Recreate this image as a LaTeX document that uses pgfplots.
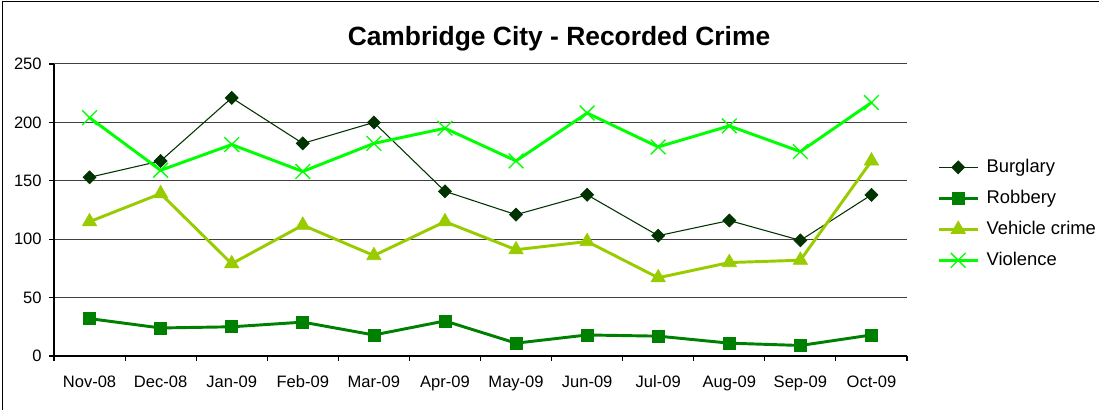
\documentclass[border=0pt]{standalone}
\usepackage{fontspec}
\setmainfont{Liberation Sans}
\usepackage{pgfplots}
\pgfplotsset{compat=1.18}
\definecolor{burg}{HTML}{003300}
\definecolor{robb}{HTML}{008000}
\definecolor{vehi}{HTML}{99CC00}
\definecolor{viol}{HTML}{00FF00}
\begin{document}
\begin{tikzpicture}
\path[use as bounding box] (0pt,0pt) rectangle (824.25pt,307.5pt);
\begin{scope}
\clip (0pt,0pt) rectangle (824.25pt,307.5pt);
\draw[black, line width=1.1pt] (1.9pt,306.4pt) rectangle (900pt,-40pt);
\node[font=\bfseries\fontsize{19.8}{23}\selectfont] at (419.25pt,278.5pt) {Cambridge City - Recorded Crime};
\begin{axis}[
  at={(40.5pt,40.5pt)}, anchor=south west, scale only axis,
  width=639.75pt, height=219pt,
  xmin=-0.5, xmax=11.5, ymin=0, ymax=250,
  axis x line*=bottom, axis y line*=left,
  axis line style={black, line width=0.8pt},
  xtick={0,...,11},
  xticklabels={Nov-08,Dec-08,Jan-09,Feb-09,Mar-09,Apr-09,May-09,Jun-09,Jul-09,Aug-09,Sep-09,Oct-09},
  minor xtick={-0.5,0.5,...,11.5},
  major x tick style={draw=none},
  minor x tick style={black, line width=0.8pt},
  ytick={0,50,...,250},
  ytick style={black, line width=0.8pt},
  tick align=outside,
  major tick length=3.75pt, minor tick length=3.75pt,
  ymajorgrids,
  grid style={black!75, line width=0.75pt},
  tick label style={font=\fontsize{12.4}{14}\selectfont},
  /pgf/number format/assume math mode=true,
  xticklabel style={yshift=-7.5pt},
  yticklabel style={xshift=-2pt},
  clip=false,
  legend style={draw=none, fill=none, at={(axis description cs:1.0305,0.487)}, anchor=west,
    font=\fontsize{13.8}{16}\selectfont, row sep=9.25pt, column sep=5.5pt,
    nodes={inner sep=0pt, text height=11pt, text depth=3pt}},
  legend cell align=left,
  legend image code/.code={\draw[mark repeat=2,mark phase=2] plot coordinates {(0pt,0pt) (14.6pt,0pt) (29.25pt,0pt)};},
]
\addplot[burg, line width=0.8pt, mark=square*, mark size=3.45pt, mark options={rotate=45, fill=burg, line width=0.5pt}]
  coordinates {(0,153) (1,167) (2,221) (3,182) (4,200) (5,141) (6,121) (7,138) (8,103) (9,116) (10,99) (11,138)};
\addlegendentry{Burglary}
\addplot[robb, line width=2.2pt, mark=square*, mark size=4.5pt, mark options={fill=robb, line width=0.5pt}]
  coordinates {(0,32) (1,24) (2,25) (3,29) (4,18) (5,30) (6,11) (7,18) (8,17) (9,11) (10,9) (11,18)};
\addlegendentry{Robbery}
\addplot[vehi, line width=2.2pt, mark=triangle*, mark size=6.2pt, mark options={fill=vehi, line width=0.5pt}]
  coordinates {(0,115) (1,139) (2,79) (3,112) (4,86) (5,115) (6,91) (7,98) (8,67) (9,80) (10,82) (11,167)};
\addlegendentry{Vehicle crime}
\addplot[viol, line width=2.2pt, mark=x, mark size=7.8pt, mark options={line width=1pt}]
  coordinates {(0,204) (1,159) (2,181) (3,158) (4,182) (5,195) (6,167) (7,208) (8,179) (9,197) (10,175) (11,217)};
\addlegendentry{Violence}
\end{axis}
\end{scope}
\end{tikzpicture}
\end{document}
